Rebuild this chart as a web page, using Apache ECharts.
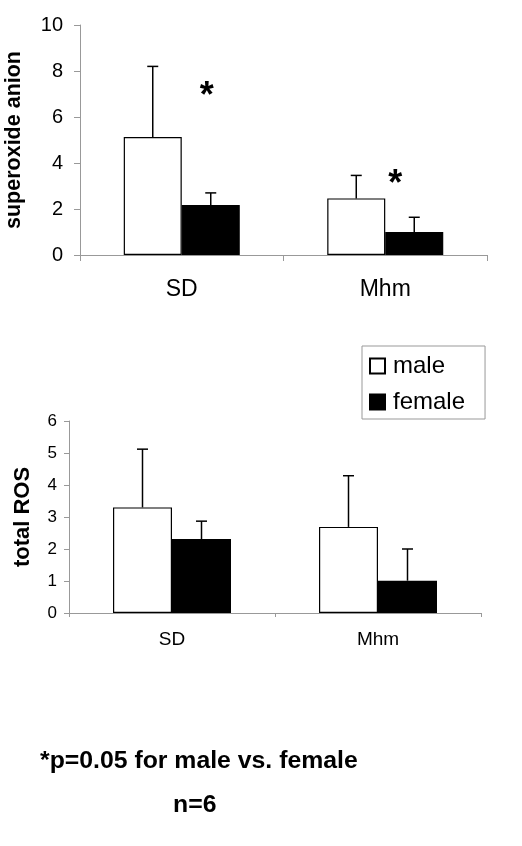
<!DOCTYPE html>
<html><head><meta charset="utf-8">
<script src="https://cdn.jsdelivr.net/npm/echarts@6/dist/echarts.min.js"></script>
<style>html,body{margin:0;padding:0;background:#fff}#c{width:522px;height:846px}</style>
</head><body><div id="c"></div>
<script>
const categories = ['SD', 'Mhm'];
// superoxide anion
const superMale = [5.13, 2.46];
const superMaleErr = [8.2, 3.46];
const superFemale = [2.17, 1.0];
const superFemaleErr = [2.7, 1.64];
const superTicks = [0, 2, 4, 6, 8, 10];
// significance marks (value positions of asterisks)
const sigValues = [6.87, 3.05];
// total ROS
const rosMale = [3.30, 2.69];
const rosMaleErr = [5.12, 4.29];
const rosFemale = [2.31, 1.01];
const rosFemaleErr = [2.87, 2.0];
const rosTicks = [0, 1, 2, 3, 4, 5, 6];

const FONT = 'Liberation Sans, Arial, sans-serif';
const chart = echarts.init(document.getElementById('c'), null, {renderer: 'canvas'});

function errSeries(name, gi, tops, dir, barW) {
  return {
    type: 'custom', name: name, xAxisIndex: gi, yAxisIndex: gi, z: 5, silent: true,
    data: tops.map((t, i) => [i, t]),
    renderItem: function (params, api) {
      const idx = api.value(0), top = api.value(1);
      const base = gi === 0 ? (dir < 0 ? superMale : superFemale)[idx] : (dir < 0 ? rosMale : rosFemale)[idx];
      const pTop = api.coord([idx, top]);
      const pBase = api.coord([idx, base]);
      const x = pTop[0] + dir * barW / 2;
      const cap = 5.5;
      return {
        type: 'group', children: [
          {type: 'line', shape: {x1: x, y1: pBase[1], x2: x, y2: pTop[1]}, style: {stroke: '#000', lineWidth: 1.5}},
          {type: 'line', shape: {x1: x - cap, y1: pTop[1], x2: x + cap, y2: pTop[1]}, style: {stroke: '#000', lineWidth: 1.5}}
        ]
      };
    }
  };
}

const sigOffsets = [25, 10];
const option = {
  animation: false,
  backgroundColor: '#fff',
  grid: [
    {left: 80, top: 25, width: 407, height: 230, outerBoundsMode: 'none', containLabel: false},
    {left: 69, top: 421, width: 412, height: 192, outerBoundsMode: 'none', containLabel: false}
  ],
  legend: {
    data: ['male', 'female'],
    orient: 'vertical', left: 362, top: 346,
    itemWidth: 15, itemHeight: 15, itemGap: 12,
    padding: [8, 20, 5, 7],
    borderColor: '#999', borderWidth: 1,
    icon: 'rect',
    textStyle: {fontFamily: FONT, fontSize: 24, color: '#000', padding: [0, 0, 0, 3]}
  },
  xAxis: [0, 1].map(gi => ({
    type: 'category', gridIndex: gi, data: categories,
    axisLine: {lineStyle: {color: '#999', width: 1}},
    axisTick: {show: true, length: gi === 0 ? 6 : 4, lineStyle: {color: '#999'}},
    axisLabel: {fontFamily: FONT, fontSize: gi === 0 ? 23 : 19, color: '#000', margin: gi === 0 ? 23 : 17}
  })),
  yAxis: [
    {type: 'value', gridIndex: 0, min: 0, max: 10, interval: 2,
      name: 'superoxide anion', nameLocation: 'middle', nameGap: 55,
      nameTextStyle: {fontFamily: FONT, fontSize: 21.5, fontWeight: 'bold', color: '#000'},
      axisLine: {show: true, lineStyle: {color: '#999'}},
      axisTick: {show: true, length: 6, lineStyle: {color: '#999'}},
      splitLine: {show: false},
      axisLabel: {fontFamily: FONT, fontSize: 20, color: '#000', margin: 17,
        formatter: v => superTicks.includes(v) ? String(v) : ''}},
    {type: 'value', gridIndex: 1, min: 0, max: 6, interval: 1,
      name: 'total ROS', nameLocation: 'middle', nameGap: 35,
      nameTextStyle: {fontFamily: FONT, fontSize: 22, fontWeight: 'bold', color: '#000'},
      axisLine: {show: true, lineStyle: {color: '#999'}},
      axisTick: {show: true, length: 5, lineStyle: {color: '#999'}},
      splitLine: {show: false},
      axisLabel: {fontFamily: FONT, fontSize: 17, color: '#000', margin: 12,
        formatter: v => rosTicks.includes(v) ? String(v) : ''}}
  ],
  series: [
    {type: 'bar', name: 'male', xAxisIndex: 0, yAxisIndex: 0, data: superMale, barWidth: 58, barGap: '0%',
      itemStyle: {color: '#fff', borderColor: '#000', borderWidth: 1.2}},
    {type: 'bar', name: 'female', xAxisIndex: 0, yAxisIndex: 0, data: superFemale, barWidth: 58, barGap: '0%',
      itemStyle: {color: '#000', borderColor: '#000', borderWidth: 1.2}},
    {type: 'bar', name: 'male', xAxisIndex: 1, yAxisIndex: 1, data: rosMale, barWidth: 59, barGap: '0%',
      itemStyle: {color: '#fff', borderColor: '#000', borderWidth: 1.2}},
    {type: 'bar', name: 'female', xAxisIndex: 1, yAxisIndex: 1, data: rosFemale, barWidth: 59, barGap: '0%',
      itemStyle: {color: '#000', borderColor: '#000', borderWidth: 1.2}},
    errSeries('e1', 0, superMaleErr, -1, 58),
    errSeries('e2', 0, superFemaleErr, 1, 58),
    errSeries('e3', 1, rosMaleErr, -1, 59),
    errSeries('e4', 1, rosFemaleErr, 1, 59),
    {type: 'custom', name: 'sig', xAxisIndex: 0, yAxisIndex: 0, z: 6, silent: true,
      data: sigValues.map((v, i) => [i, v]),
      renderItem: function (params, api) {
        const i = api.value(0);
        const p = api.coord([i, api.value(1)]);
        return {type: 'text', x: p[0] + sigOffsets[i], y: p[1],
          style: {text: '*', fontFamily: FONT, fontSize: 36, fontWeight: 'bold', fill: '#000',
            align: 'center', verticalAlign: 'middle'}};
      }}
  ],
  graphic: [
    {type: 'text', left: 40, top: 749, style: {text: '*p=0.05 for male vs. female', fontFamily: FONT, fontSize: 24.8, fontWeight: 'bold', fill: '#000'}},
    {type: 'text', left: 173, top: 793, style: {text: 'n=6', fontFamily: FONT, fontSize: 24.8, fontWeight: 'bold', fill: '#000'}}
  ]
};
chart.setOption(option);
</script></body></html>
